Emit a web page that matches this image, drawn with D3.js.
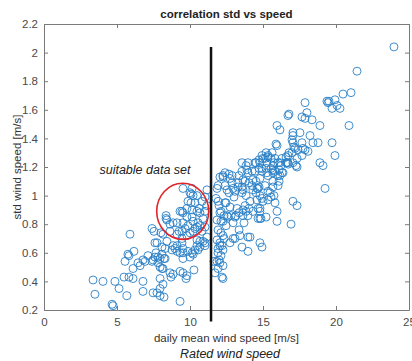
<!DOCTYPE html>
<html>
<head>
<meta charset="utf-8">
<script src="https://cdn.jsdelivr.net/npm/d3@7"></script>
<style>
  body { margin: 0; background: #fff; }
  text { font-family: "Liberation Sans", Arial, sans-serif; }
</style>
</head>
<body>
<div id="chart"></div>
<script>
/**
 * DATA  [daily mean wind speed (m/s), std wind speed (m/s)]
 * */
const lowWind = [
  [3.36,0.41],[4.04,0.40],[3.49,0.31],[4.86,0.40],[5.14,0.35],[4.66,0.24],[4.73,0.23],[5.68,0.30],
  [5.48,0.43],[5.82,0.43],[6.10,0.42],[5.55,0.54],[5.82,0.58],[5.75,0.59],[6.16,0.61],[6.10,0.49],
  [5.89,0.73],[6.78,0.40],[6.78,0.33],[6.58,0.51],[6.92,0.54],[7.12,0.58],[7.47,0.32],[7.74,0.32],
  [7.95,0.30],[8.22,0.29],[7.95,0.35],[8.15,0.38],[7.95,0.42],[7.47,0.55],[7.81,0.57],[8.08,0.59],
  [7.67,0.60],[8.22,0.56],[7.95,0.50],[8.15,0.49],[7.60,0.67],[7.40,0.77],[7.53,0.75],[8.01,0.74],
  [8.15,0.73],[8.36,0.84],[8.36,0.86],[8.42,0.83],[8.63,0.75],[8.84,0.65],[9.11,0.73],[9.25,0.75],
  [9.11,0.81],[8.70,0.43],[8.84,0.45],[9.32,0.47],[9.52,0.46],[9.79,0.44],[9.73,0.42],[9.32,0.26],
  [10.27,0.48],[9.52,0.81],[9.45,0.89],[9.32,0.89],[9.52,1.05],[10.07,1.01],[10.07,0.95],[10.62,0.91],
  [10.48,0.89],[9.79,0.85],[10.14,0.85],[10.21,0.82],[9.86,0.79],[9.66,0.77],[9.45,0.75],[10.0,0.74],
  [10.21,0.75],[10.48,0.78],[10.68,0.79],[10.48,0.69],[10.68,0.68],[10.55,0.62],[10.0,0.57],[10.21,0.59],
  [9.52,0.56],[9.45,0.67],[9.11,0.65],[8.97,0.63],[8.77,0.62],[8.29,0.63],
  [7.74,0.67],[8.08,0.64],[8.42,0.68],[9.11,0.61],[9.32,0.60],[9.52,0.63],[6.44,0.53],[6.78,0.55],
  [7.60,0.57],[7.95,0.56],[8.29,0.56],[7.81,0.53],[8.08,0.49],[7.40,0.54],[8.63,0.46],[8.63,0.80],
  [8.84,0.81]
];

const nearRated = [
  [10.14,1.05],[10.0,1.02],[10.48,1.00],[10.82,0.96],[10.34,0.95],[9.86,0.96],[10.14,0.90],[9.79,0.91],
  [9.52,0.88],[10.68,0.88],[11.03,0.89],[11.16,0.93],[11.16,1.04],[11.03,0.99],[10.89,0.84],[10.55,0.81],
  [11.03,0.78],[10.34,0.77],[10.82,0.75],[11.16,0.71],[11.03,0.67],[10.21,1.00],[9.52,0.60],[9.86,0.61],
  [10.14,0.60],[10.34,0.62],[10.89,0.68],[11.03,0.65],[10.68,0.64],[10.48,0.65],[9.45,0.70],[9.79,0.72],
  [11.85,0.69],[12.05,0.65],[12.26,0.62],[11.92,0.60],[11.85,0.54],[12.05,0.53],[11.71,0.46],[12.26,0.42],
  [12.95,0.70],[13.56,0.64],[13.97,0.61],[13.97,0.71],[14.79,0.67],[14.93,0.64],[15.96,0.82]
];

const midWind = [
  [19.25,1.05],[17.05,0.96],[17.33,0.93],[16.92,0.80],[15.82,0.95],[15.75,1.00],[15.55,0.99],[15.34,0.97],
  [15.0,0.96],[14.52,1.02],[14.66,0.91],[15.21,0.85],[14.86,0.84],[13.08,0.70],[13.36,0.76],[13.70,0.81],
  [13.97,0.86],[14.32,0.89],[14.04,0.91],[13.84,0.89],[13.63,0.90],[13.36,0.88],[13.15,0.86],[12.81,0.86],
  [12.60,0.85],[12.33,0.86],[12.12,0.89],[12.12,0.82],[12.47,0.79],[12.12,0.74],[12.33,0.70],[12.05,0.67],
  [11.92,0.63],[12.12,0.58],[11.99,0.55],[12.26,0.51],[11.92,0.49],[11.64,0.54],[12.19,0.43],[13.01,0.99],
  [12.67,1.02],[12.47,0.95],[11.99,0.93],[11.78,0.98],[13.29,1.06],[13.63,1.04],[13.84,1.00],[14.32,1.04],
  [14.73,1.06],[15.34,1.03],[15.68,1.06],[16.10,1.10],[14.04,1.09],[14.52,1.10],
  [11.85,1.05],[12.26,1.13],[12.88,1.14],[13.29,1.09],[13.63,1.11],[13.97,1.16],[14.45,1.17],[14.93,1.19],
  [12.53,1.04],[12.95,1.05],[13.56,1.02],[14.25,1.07],[14.59,1.05],[14.79,1.00],[11.92,0.96],[12.40,0.95],
  [12.74,0.92],[13.22,0.91],[13.77,0.93],[14.11,0.96],[14.59,0.97],[12.05,0.88],[12.53,0.86],[13.08,0.85],
  [13.63,0.86],[11.85,0.83],[12.26,0.82],[12.95,0.81],[14.79,0.91],[14.79,0.84],[11.92,0.76],[12.26,0.72],
  [13.42,0.72],[14.11,0.71],[12.74,0.67],[12.19,0.65],
  [15.96,1.35],[15.62,1.30],[15.14,1.26],[14.93,1.28],[14.45,1.23],[13.97,1.23],[13.56,1.23],[13.90,1.18],
  [14.25,1.17],[13.56,1.17],[12.40,1.16],[12.05,1.13],[12.74,1.12],[12.88,1.09],[12.40,1.07],[11.92,1.07],
  [13.08,1.03],[13.56,1.06],[13.77,1.10],[14.32,1.11],[14.79,1.12],[15.27,1.16],[15.68,1.18],[16.16,1.23],
  [16.64,1.23],[16.30,1.16]
];

const highWind = [
  [15.89,1.36],[17.05,1.37],[17.67,1.37],[17.88,1.32],[17.40,1.32],[16.99,1.30],[16.71,1.28],[16.30,1.26],
  [15.82,1.26],[15.34,1.28],[15.0,1.26],[14.79,1.23],[15.27,1.23],[15.68,1.21],[16.71,1.23],[16.73,1.22],
  [17.33,1.20],[17.33,1.26],[19.11,1.21],[19.73,1.37],[19.93,1.28],[14.93,1.17],[15.34,1.14],[15.82,1.17],
  [16.16,1.14],[15.68,1.10],[16.03,1.07],[15.14,1.07],[14.66,1.05],[15.48,1.02],[14.93,0.98],[15.96,0.89],
  [14.79,0.89],[14.66,0.84],
  [17.88,1.65],[19.45,1.65],[20.07,1.63],[20.27,1.61],[19.73,1.61],[16.71,1.56],[17.67,1.55],[18.01,1.58],
  [18.36,1.53],[15.96,1.49],[16.16,1.46],[17.05,1.44],[17.53,1.44],[18.90,1.49],[17.05,1.42],[16.99,1.39],
  [18.22,1.42],[18.42,1.37],[18.77,1.37],[17.19,1.33],[17.74,1.33],[18.08,1.31],[17.67,1.28],[18.90,1.23],
  [17.05,1.23],
  [23.97,2.04],[21.44,1.87],[21.03,1.72],[20.48,1.71],[19.38,1.66],[19.93,1.67],[19.52,1.66],[16.78,1.57],
  [17.88,1.54],[20.89,1.49],[17.12,1.34],[16.78,1.30],[16.58,1.27],[16.58,1.23],[17.26,1.21],[15.21,1.30],
  [15.34,1.27],[15.55,1.26],[14.73,1.25],[14.52,1.23],[15.75,1.23],[16.03,1.23],[16.23,1.21],[13.84,1.21],
  [12.26,1.14],[12.67,1.15],[13.36,1.14],[14.73,1.19],[15.21,1.19],[15.55,1.19],[16.10,1.18],[16.37,1.16],
  [16.03,1.14],[15.68,1.16]
];

const xTicks = [0, 5, 10, 15, 20, 25];
const yTicks = [0.2, 0.4, 0.6, 0.8, 1, 1.2, 1.4, 1.6, 1.8, 2, 2.2];

// annotations
const ratedSpeed = 11.44;           // m/s, vertical line
const ratedLineSpan = [0.12, 2.04]; // std range of the line
const suitableCenter = [9.5, 0.89]; // centre of red ellipse
const suitableRadius = [1.78, 0.196]; // half width (m/s), half height (std)

/**
 * CONSTANTS
 * */
const width = 412, height = 361,
  margin = { top: 24, right: 3, bottom: 51, left: 44 };

const svg = d3.select("#chart").append("svg")
  .attr("width", width)
  .attr("height", height);

const xScale = d3.scaleLinear().domain([0, 25]).range([margin.left, width - margin.right]);
const yScale = d3.scaleLinear().domain([0.2, 2.2]).range([height - margin.bottom, margin.top]);

const axisColor = "#7a7a7a";
const labelColor = "#4a4a4a";

// axes (MATLAB box style, ticks inward)
const xAxis = svg.append("g")
  .attr("transform", `translate(0,${yScale(0.2)})`)
  .call(d3.axisBottom(xScale).tickValues(xTicks).tickSizeInner(-4).tickSizeOuter(0).tickPadding(8));
const xTop = svg.append("g")
  .attr("transform", `translate(0,${yScale(2.2)})`)
  .call(d3.axisTop(xScale).tickValues(xTicks).tickSizeInner(-4).tickSizeOuter(0).tickFormat(""));
const yAxis = svg.append("g")
  .attr("transform", `translate(${xScale(0)},0)`)
  .call(d3.axisLeft(yScale).tickValues(yTicks).tickSizeInner(-4).tickSizeOuter(0).tickPadding(6)
    .tickFormat(d => d3.format("~g")(d)));
const yRight = svg.append("g")
  .attr("transform", `translate(${xScale(25)},0)`)
  .call(d3.axisRight(yScale).tickValues(yTicks).tickSizeInner(-4).tickSizeOuter(0).tickFormat(""));

[xAxis, xTop, yAxis, yRight].forEach(g => {
  g.selectAll("path").attr("stroke", axisColor);
  g.selectAll("line").attr("stroke", axisColor);
  g.selectAll("text")
    .attr("fill", labelColor)
    .style("font-size", "11.5px");
});

// scatter
const allPoints = lowWind.concat(nearRated, midWind, highWind);
svg.append("g")
  .selectAll("circle")
  .data(allPoints)
  .join("circle")
  .attr("cx", d => xScale(d[0]))
  .attr("cy", d => yScale(d[1]))
  .attr("r", 4)
  .attr("fill", "none")
  .attr("stroke", "#2a80c6")
  .attr("stroke-width", 0.9);

// rated wind speed line
svg.append("line")
  .attr("x1", xScale(ratedSpeed)).attr("x2", xScale(ratedSpeed))
  .attr("y1", yScale(ratedLineSpan[1])).attr("y2", yScale(ratedLineSpan[0]))
  .attr("stroke", "#111")
  .attr("stroke-width", 2.5);

// suitable data set ellipse
svg.append("ellipse")
  .attr("cx", xScale(suitableCenter[0]))
  .attr("cy", yScale(suitableCenter[1]))
  .attr("rx", xScale(suitableRadius[0]) - xScale(0))
  .attr("ry", yScale(0) - yScale(suitableRadius[1]))
  .attr("fill", "none")
  .attr("stroke", "#e0252b")
  .attr("stroke-width", 1.6);

// texts
svg.append("text")
  .attr("x", (xScale(0) + xScale(25)) / 2)
  .attr("y", 18)
  .attr("text-anchor", "middle")
  .attr("font-weight", "bold")
  .attr("font-size", 11.5)
  .attr("fill", "#222")
  .text("correlation std vs speed");

svg.append("text")
  .attr("x", (xScale(0) + xScale(25)) / 2)
  .attr("y", 342)
  .attr("text-anchor", "middle")
  .attr("font-size", 11.5)
  .attr("fill", "#333")
  .text("daily mean wind speed [m/s]");

svg.append("text")
  .attr("x", 230)
  .attr("y", 358)
  .attr("text-anchor", "middle")
  .attr("font-style", "italic")
  .attr("font-size", 12.5)
  .attr("fill", "#222")
  .text("Rated wind speed");

svg.append("text")
  .attr("transform", `translate(21,${(yScale(0.2) + yScale(2.2)) / 2}) rotate(-90)`)
  .attr("text-anchor", "middle")
  .attr("font-size", 11.5)
  .attr("fill", "#333")
  .text("std wind speed [m/s]");

svg.append("text")
  .attr("x", 145)
  .attr("y", 174)
  .attr("text-anchor", "middle")
  .attr("font-style", "italic")
  .attr("font-size", 12.5)
  .attr("fill", "#222")
  .text("suitable data set");
</script>
</body>
</html>
